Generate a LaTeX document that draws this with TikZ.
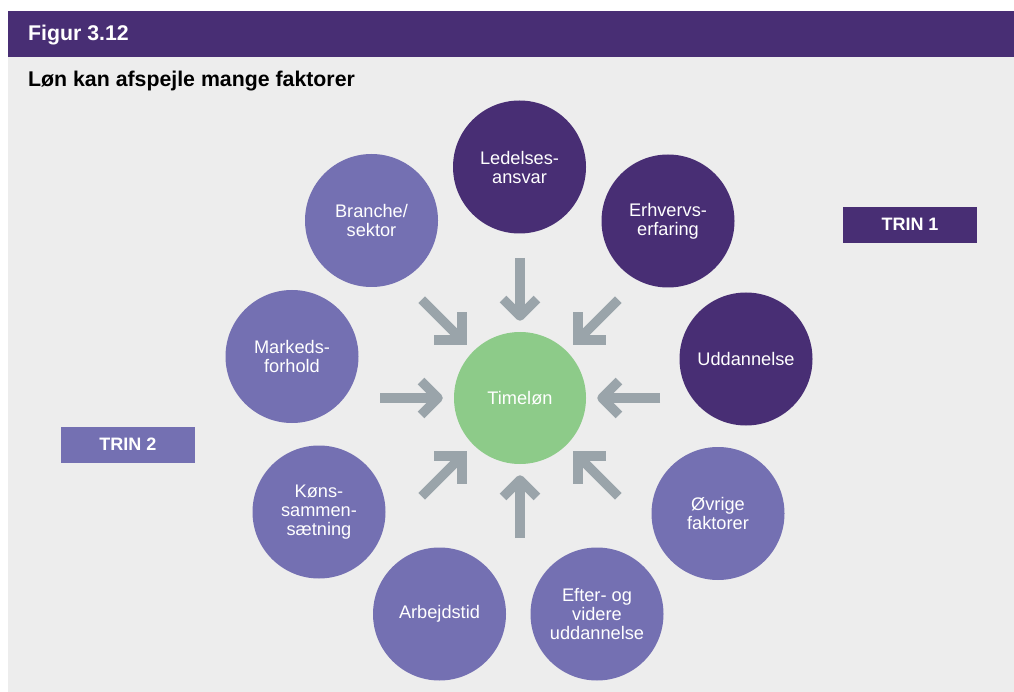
\documentclass[tikz,border=0pt]{standalone}
\usepackage{fontspec}
\setmainfont{Liberation Sans}
\usetikzlibrary{calc}
\definecolor{darkpurple}{HTML}{482E74}
\definecolor{lightpurple}{HTML}{7470B2}
\definecolor{timegreen}{HTML}{8DCB89}
\definecolor{arrowgray}{HTML}{9AA4AA}
\definecolor{bggray}{HTML}{EDEDED}
\begin{document}
\begin{tikzpicture}[x=1pt,y=-1pt,
  circ/.style={circle, minimum size=133pt, inner sep=0pt, text=white, align=center,
    font=\fontsize{18.2}{19}\selectfont},
  dcirc/.style={circ, fill=darkpurple},
  lcirc/.style={circ, fill=lightpurple},
  gcirc/.style={circ, fill=timegreen},
  arrowline/.style={draw=arrowgray, line width=9.5pt},
  trinbox/.style={minimum width=134pt, minimum height=36pt, inner sep=0pt, text=white,
    font=\fontsize{18}{19}\selectfont\bfseries},
  heading/.style={anchor=base west, inner sep=0pt, font=\fontsize{21.3}{23}\selectfont\bfseries}
]
\useasboundingbox (0,0) rectangle (1014,692);
\fill[white] (0,0) rectangle (1014,692);
\fill[darkpurple] (8,11) rectangle (1014,57);
\fill[bggray] (8,57) rectangle (1014,692);

\node[heading, text=white] (fig) at (28,41) {Figur 3.12};
\node[heading, text=black] (title) at (28,87) {Løn kan afspejle mange faktorer};

\node[gcirc, minimum size=132pt] (T) at (520,398) {Timeløn};

\node[dcirc] (led) at (519.5,167) {Ledelses-\\ansvar};
\node[dcirc] (erh) at (668,221) {Erhvervs-\\erfaring};
\node[dcirc] (udd) at (746,359) {Uddannelse};
\node[lcirc] (ovr) at (718,513.5) {Øvrige\\faktorer};
\node[lcirc] (eft) at (597,614) {Efter- og\\videre\\uddannelse};
\node[lcirc] (arb) at (439.5,614) {Arbejdstid};
\node[lcirc] (kon) at (319,512) {Køns-\\sammen-\\sætning};
\node[lcirc] (mar) at (292,356.5) {Markeds-\\forhold};
\node[lcirc] (bra) at (371.5,220.5) {Branche/\\sektor};

\node[trinbox, fill=darkpurple] (trin1) at (910,224.7) {TRIN 1};
\node[trinbox, fill=lightpurple] (trin2) at (128,444.7) {TRIN 2};

% cardinal arrows
\foreach \a in {0,90,180,270} {
  \coordinate (s\a) at ($(T.center)+(\a:140)$);
  \coordinate (v\a) at ($(T.center)+(\a:82)$);
  \draw[arrowline] (s\a) -- (v\a);
  \draw[arrowline, line join=round] ($(v\a)+(\a+45:24)$) -- (v\a) -- ($(v\a)+(\a-45:24)$);
}
% diagonal arrows
\foreach \a in {45,135,225,315} {
  \coordinate (s\a) at ($(T.center)+(\a:139)$);
  \coordinate (v\a) at ($(T.center)+(\a:82)$);
  \draw[arrowline] (s\a) -- (v\a);
  \draw[arrowline, line join=miter] ($(v\a)+(\a+45:28)$) -- (v\a) -- ($(v\a)+(\a-45:28)$);
}
\end{tikzpicture}
\end{document}
